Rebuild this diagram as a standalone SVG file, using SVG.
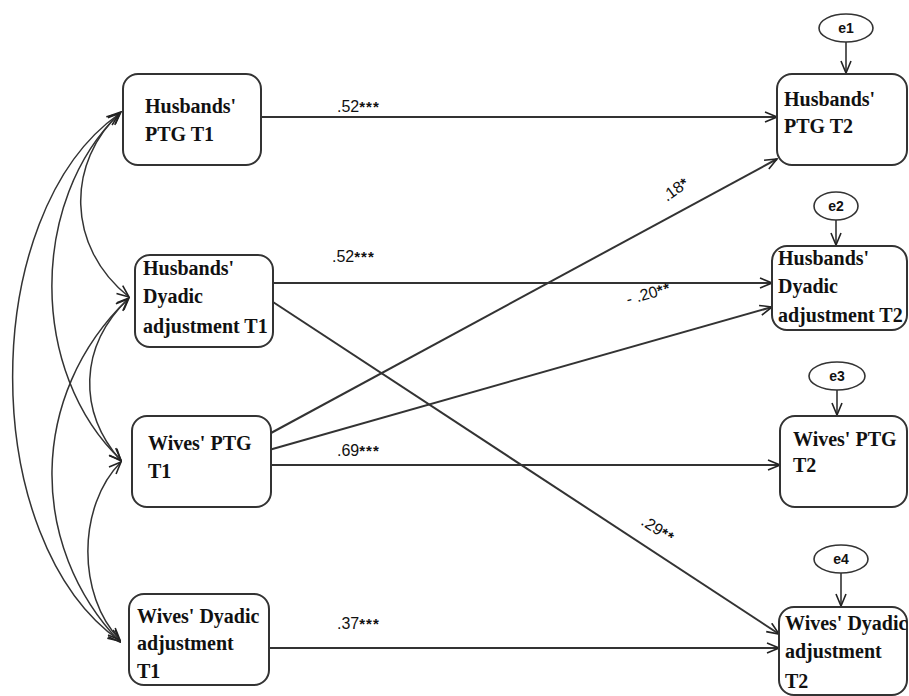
<svg xmlns="http://www.w3.org/2000/svg" width="909" height="696" viewBox="0 0 909 696">
<defs>
<marker id="arr" viewBox="0 0 14 12" refX="13" refY="6" markerWidth="14" markerHeight="12" markerUnits="userSpaceOnUse" orient="auto-start-reverse">
<path d="M1,1 L13,6 L1,11" fill="none" stroke="#222" stroke-width="1.6"/>
</marker>
</defs>
<style>
.box{fill:#fff;stroke:#333;stroke-width:2}
.err{fill:#fff;stroke:#333;stroke-width:1.6}
.t{font-family:"Liberation Serif","Times New Roman",serif;font-weight:bold;font-size:20px;fill:#111}
.et{font-family:"Liberation Sans",Arial,sans-serif;font-weight:bold;font-size:14px;fill:#111;text-anchor:middle}
.lab{font-family:"Liberation Sans",Arial,sans-serif;font-size:16px;fill:#111}
.st{font-size:15px;font-weight:bold;letter-spacing:1px}
.ln{fill:none;stroke:#333;stroke-width:2;marker-end:url(#arr)}
.cv{fill:none;stroke:#333;stroke-width:1.5;marker-start:url(#arr);marker-end:url(#arr)}
.ea{fill:none;stroke:#333;stroke-width:1.6;marker-end:url(#arr)}
</style>
<rect width="909" height="696" fill="#fff"/>
<g id="connectors">
<path class="ln" d="M261,117 L777,117"/>
<path class="ln" d="M273,283 L772,283"/>
<path class="ln" d="M273,302 L779,634"/>
<path class="ln" d="M271,433 L777,159"/>
<path class="ln" d="M269,450 L772,307"/>
<path class="ln" d="M271,465 L780,465"/>
<path class="ln" d="M269,648 L779,648"/>
<path class="cv" d="M121,112 C66,162 66,247 129,297"/>
<path class="cv" d="M120,113 C29,200 29,373 121,460"/>
<path class="cv" d="M119,114 C-23,214 -23,541 120,641"/>
<path class="cv" d="M129,298 C78,347 78,412 121,461"/>
<path class="cv" d="M128,299 C28,395 28,546 120,642"/>
<path class="cv" d="M121,462 C77,506 77,596 120,640"/>
<path class="ea" d="M846,42 L846,73"/>
<path class="ea" d="M836,220 L836,245"/>
<path class="ea" d="M837,390 L837,415"/>
<path class="ea" d="M841,573 L841,606"/>
<text class="lab" x="337" y="112">.52<tspan class="st">***</tspan></text>
<text class="lab" x="332" y="262">.52<tspan class="st">***</tspan></text>
<text class="lab" x="337" y="456">.69<tspan class="st">***</tspan></text>
<text class="lab" x="337" y="629">.37<tspan class="st">***</tspan></text>
<text class="lab" transform="translate(667,202) rotate(-36)">.18<tspan class="st">*</tspan></text>
<text class="lab" transform="translate(628,305) rotate(-16)">- .20<tspan class="st">**</tspan></text>
<text class="lab" transform="translate(640,524) rotate(33)">.29<tspan class="st">**</tspan></text>
</g>
<g id="h_ptg_t1"><rect class="box" x="123" y="74" width="138" height="91" rx="15"/><text class="t" x="145" y="113">Husbands'</text><text class="t" x="145" y="141">PTG T1</text></g>
<g id="h_dyad_t1"><rect class="box" x="135" y="255" width="138" height="92" rx="15"/><text class="t" x="143" y="275">Husbands'</text><text class="t" x="143" y="303">Dyadic</text><text class="t" x="143" y="333">adjustment T1</text></g>
<g id="w_ptg_t1"><rect class="box" x="132" y="416" width="139" height="91" rx="15"/><text class="t" x="148" y="450">Wives' PTG</text><text class="t" x="148" y="478">T1</text></g>
<g id="w_dyad_t1"><rect class="box" x="129" y="594" width="140" height="91" rx="15"/><text class="t" x="137" y="623">Wives' Dyadic</text><text class="t" x="137" y="650">adjustment</text><text class="t" x="137" y="678">T1</text></g>
<g id="e1"><ellipse class="err" cx="846" cy="28" rx="27" ry="14"/><text class="et" x="846" y="33">e1</text></g>
<g id="e2"><ellipse class="err" cx="836" cy="206" rx="22" ry="14"/><text class="et" x="836" y="211">e2</text></g>
<g id="e3"><ellipse class="err" cx="837" cy="376" rx="28" ry="14"/><text class="et" x="837" y="381">e3</text></g>
<g id="e4"><ellipse class="err" cx="841" cy="559" rx="27" ry="14"/><text class="et" x="841" y="564">e4</text></g>
<g id="h_ptg_t2"><rect class="box" x="777" y="74" width="130" height="91" rx="15"/><text class="t" x="784" y="106">Husbands'</text><text class="t" x="784" y="133">PTG T2</text></g>
<g id="h_dyad_t2"><rect class="box" x="772" y="246" width="135" height="84" rx="15"/><text class="t" x="778" y="265">Husbands'</text><text class="t" x="778" y="293">Dyadic</text><text class="t" x="778" y="322">adjustment T2</text></g>
<g id="w_ptg_t2"><rect class="box" x="780" y="416" width="127" height="91" rx="15"/><text class="t" x="793" y="446">Wives' PTG</text><text class="t" x="793" y="472">T2</text></g>
<g id="w_dyad_t2"><rect class="box" x="779" y="607" width="128" height="88" rx="15"/><text class="t" x="785" y="630">Wives' Dyadic</text><text class="t" x="785" y="658">adjustment</text><text class="t" x="785" y="688">T2</text></g>
</svg>
